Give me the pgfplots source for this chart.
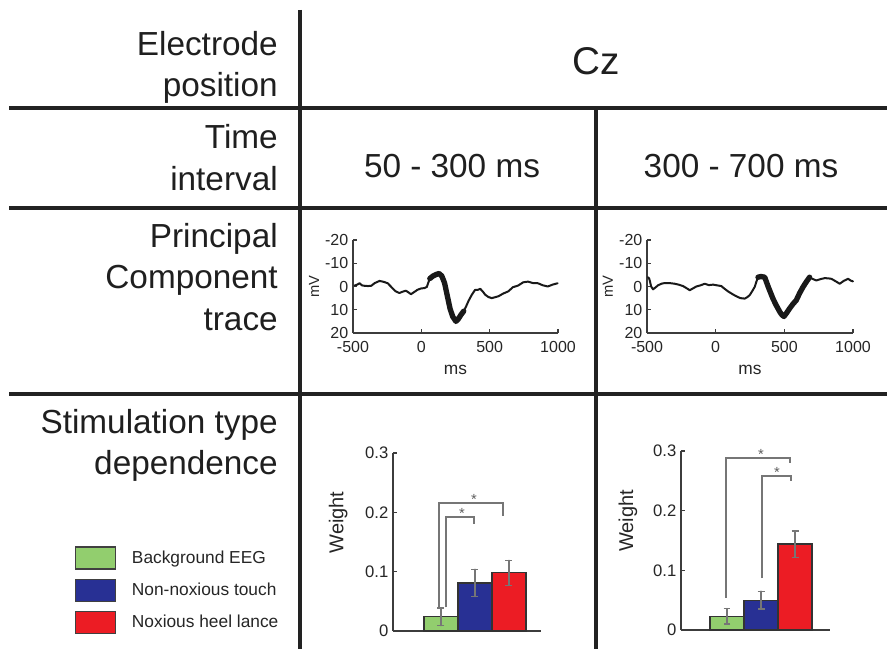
\documentclass[border=0pt]{standalone}
\usepackage{fontspec}
\setmainfont{Liberation Sans}
\usepackage{pgfplots}
\pgfplotsset{compat=1.18}
\definecolor{bgreen}{RGB}{146,206,110}
\definecolor{bblue}{RGB}{40,48,148}
\definecolor{bred}{RGB}{236,28,36}
\definecolor{frame}{RGB}{34,34,34}
\definecolor{brk}{RGB}{118,118,118}
\definecolor{axc}{RGB}{60,60,60}

\pgfplotstableread{
ms mv
-488 -0.4
-470 -0.8
-452 -1.4
-435 -0.5
-416 -0.3
-390 -0.2
-367 -0.3
-340 -1.5
-306 -2.4
-275 -2.0
-246 -1.4
-215 0.5
-190 2.0
-161 2.8
-135 2.2
-113 1.8
-95 2.5
-76 3.3
-50 2.3
-28 1.4
0 0.8
22 0.7
40 0.2
50 -1.5
62 -3.4
85 -4.5
110 -5.2
130 -5.6
150 -4.5
170 -1.5
190 4
210 9.5
230 13
253 15
270 14
292 12
310 10.6
328 8.5
346 6.1
370 3.5
394 1.4
410 1.5
431 1
450 2.2
467 3.5
490 4.5
515 5
540 4.6
564 4.2
600 3
636 2.1
670 0.3
708 -0.4
745 -1.8
781 -2.1
815 -1.5
853 -1.4
890 -0.5
925 0
960 -0.8
997 -1.4
}\traceA

\pgfplotstableread{
ms mv
-493 -4
-485 -3.5
-480 -2.6
-470 0
-456 1.2
-440 0.5
-420 -0.5
-395 -1.2
-371 -1.5
-340 -1.5
-299 -1.2
-270 -0.8
-238 -0.2
-210 0.8
-189 1.6
-165 0.8
-141 0
-110 -0.5
-80 -1.2
-50 -0.6
-19 -0.8
10 -0.5
41 -0.2
65 1
90 2.1
120 3.2
150 4.2
180 5
211 5.2
230 4.6
248 3.7
266 2
284 0.2
296 -2
308 -4
330 -4.3
357 -4
385 0.5
417 5.2
440 8
466 10.8
482 12.2
497 12.9
515 11.5
539 9.4
563 7.5
587 5.9
610 3
636 0.2
660 -2
684 -4
708 -3.2
733 -2.6
765 -3.2
794 -3.6
820 -3.5
843 -3.3
875 -2.2
903 -1.2
935 -2.5
964 -3.3
985 -2.5
1000 -2.2
}\traceB

\tikzset{sigstar/.style={text=brk!80!black, font=\fontsize{11}{12}\selectfont, inner sep=0pt}}

\pgfplotsset{
  traceaxis/.style={
    scale only axis, height=69.75pt,
    axis lines*=left, axis line style={-, draw=axc, line width=0.9pt},
    xmin=-500, xmax=1000, ymin=-20, ymax=20, y dir=reverse,
    xtick={-500,0,500,1000}, ytick={-20,-10,0,10,20},
    tick align=inside, major tick length=3pt,
    tick style={axc, line width=0.8pt},
    ticklabel style={font=\fontsize{12}{14}\selectfont, text=black!85},
    xticklabel style={yshift=-3pt},
    /pgf/number format/assume math mode=true,
    /pgf/number format/1000 sep={},
    xlabel={ms}, ylabel={mV},
    xlabel style={font=\fontsize{13}{15}\selectfont, text=black!85, at={(axis description cs:0.5,-0.45)}, anchor=base},
    ylabel style={font=\fontsize{11}{13}\selectfont, text=black!85, at={(axis description cs:-0.19,0.5)}, anchor=center},
    clip=false,
  },
  thin/.style={draw=black!90, line width=1.5pt, line join=round, line cap=round, mark=none},
  thick/.style={draw=black!90, line width=4pt, line join=round, line cap=round, mark=none},
  barax/.style={
    scale only axis, ymin=0, ymax=0.3,
    axis lines*=left, axis line style={-, draw=axc, line width=1pt},
    xtick=\empty, ytick={0,0.1,0.2,0.3},
    tick align=inside, major tick length=3pt,
    tick style={axc, line width=0.8pt},
    ticklabel style={font=\fontsize{12.5}{14}\selectfont, text=black!85},
    /pgf/number format/assume math mode=true,
    ylabel={Weight},
    ylabel style={font=\fontsize{15}{17}\selectfont, text=black!85, anchor=center},
    ybar, bar width=25.5pt, bar shift=0pt, clip=false,
  },
  barplot/.style={draw=black!80, line width=0.9pt, fill=#1,
    /pgfplots/error bars/y dir=both, /pgfplots/error bars/y explicit,
    /pgfplots/error bars/error bar style={brk, line width=1pt},
    /pgfplots/error bars/error mark options={rotate=90, mark size=2.6pt, brk, line width=1pt},
    /pgfplots/legend image code/.code={\draw[##1, draw=black!75, line width=1pt] (0pt,-8.25pt) rectangle (30pt,8.25pt);}},
}

\begin{document}
\begin{tikzpicture}[x=0.75pt, y=-0.75pt]
\useasboundingbox (0,0) rectangle (887,649);
\fill[white] (0,0) rectangle (887,649);

% grid lines
\draw[frame, line width=2.3pt] (9,108) -- (887,108);
\draw[frame, line width=2.3pt] (9,208) -- (887,208);
\draw[frame, line width=2.3pt] (9,394) -- (887,394);
\draw[frame, line width=3pt] (300,10) -- (300,649);
\draw[frame, line width=2.3pt] (596,108) -- (596,649);

% row headers
\begin{scope}[every node/.style={font=\fontsize{25}{30}\selectfont, text=black!88, anchor=base east, inner sep=0pt}]
\node at (278,56) {Electrode};
\node at (278,97) {position};
\node at (278,148) {Time};
\node at (278,190) {interval};
\node at (278,247) {Principal};
\node at (278,288) {Component};
\node at (278,330) {trace};
\node at (278,433) {Stimulation type};
\node at (278,474) {dependence};
\end{scope}

\node[font=\fontsize{29}{35}\selectfont, text=black!88, anchor=base, inner sep=0pt] at (596,75) {Cz};
\node[font=\fontsize{25}{30}\selectfont, text=black!88, anchor=base, inner sep=0pt] at (452,177) {50 - 300 ms};
\node[font=\fontsize{25}{30}\selectfont, text=black!88, anchor=base, inner sep=0pt] at (741,177) {300 - 700 ms};

\coordinate (TA) at (353,333);
\coordinate (TB) at (647,333);
\coordinate (BA) at (393,631);
\coordinate (BB) at (681,630);

% trace 1
\begin{axis}[traceaxis, width=153.75pt, at={(TA)}, anchor=south west]
\addplot[thin] table[x=ms, y=mv] {\traceA};
\addplot[thick] table[x=ms, y=mv, restrict x to domain=56:310] {\traceA};
\end{axis}

% trace 2
\begin{axis}[traceaxis, width=154.5pt, at={(TB)}, anchor=south west]
\addplot[thin] table[x=ms, y=mv] {\traceB};
\addplot[thick] table[x=ms, y=mv, restrict x to domain=300:700] {\traceB};
\end{axis}

% bars 1
\begin{axis}[barax, width=110.9pt, height=133.5pt, xmin=-0.41, xmax=3.94,
  at={(BA)}, anchor=south west,
  ylabel style={at={(axis description cs:-0.37,0.61)}},
  legend style={at={(axis description cs:-2.155,0.4775)}, anchor=north west,
    draw=none, fill=none, inner sep=0pt, font=\fontsize{13}{15}\selectfont,
    nodes={inner sep=0pt, text=black!85}, row sep=6.75pt,
    /tikz/every odd column/.append style={column sep=12pt}},
  legend cell align=left]
\addplot[barplot=bgreen] coordinates {(1,0.024) +- (0,0.015)};
\addplot[barplot=bblue] coordinates {(2,0.081) +- (0,0.023)};
\addplot[barplot=bred] coordinates {(3,0.098) +- (0,0.021)};
\legend{Background EEG, Non-noxious touch, Noxious heel lance}
\draw[brk, line width=1.4pt] (axis cs:0.94,0.040) |- (axis cs:2.82,0.216) -- (axis cs:2.82,0.194);
\draw[brk, line width=1.4pt] (axis cs:1.15,0.040) |- (axis cs:1.97,0.192) -- (axis cs:1.97,0.180);
\node[sigstar] at (axis cs:1.97,0.222) {*};
\node[sigstar] at (axis cs:1.62,0.198) {*};
\end{axis}

% bars 2
\begin{axis}[barax, width=111.8pt, height=134.25pt, xmin=-0.353, xmax=4.03,
  at={(BB)}, anchor=south west,
  ylabel style={at={(axis description cs:-0.356,0.61)}}]
\addplot[barplot=bgreen] coordinates {(1,0.023) +- (0,0.013)};
\addplot[barplot=bblue] coordinates {(2,0.050) +- (0,0.015)};
\addplot[barplot=bred] coordinates {(3,0.144) +- (0,0.022)};
\draw[brk, line width=1.4pt] (axis cs:0.97,0.054) |- (axis cs:2.85,0.288) -- (axis cs:2.85,0.280);
\draw[brk, line width=1.4pt] (axis cs:2.03,0.087) |- (axis cs:2.88,0.258) -- (axis cs:2.88,0.250);
\node[sigstar] at (axis cs:2.0,0.294) {*};
\node[sigstar] at (axis cs:2.47,0.264) {*};
\end{axis}
\end{tikzpicture}
\end{document}
